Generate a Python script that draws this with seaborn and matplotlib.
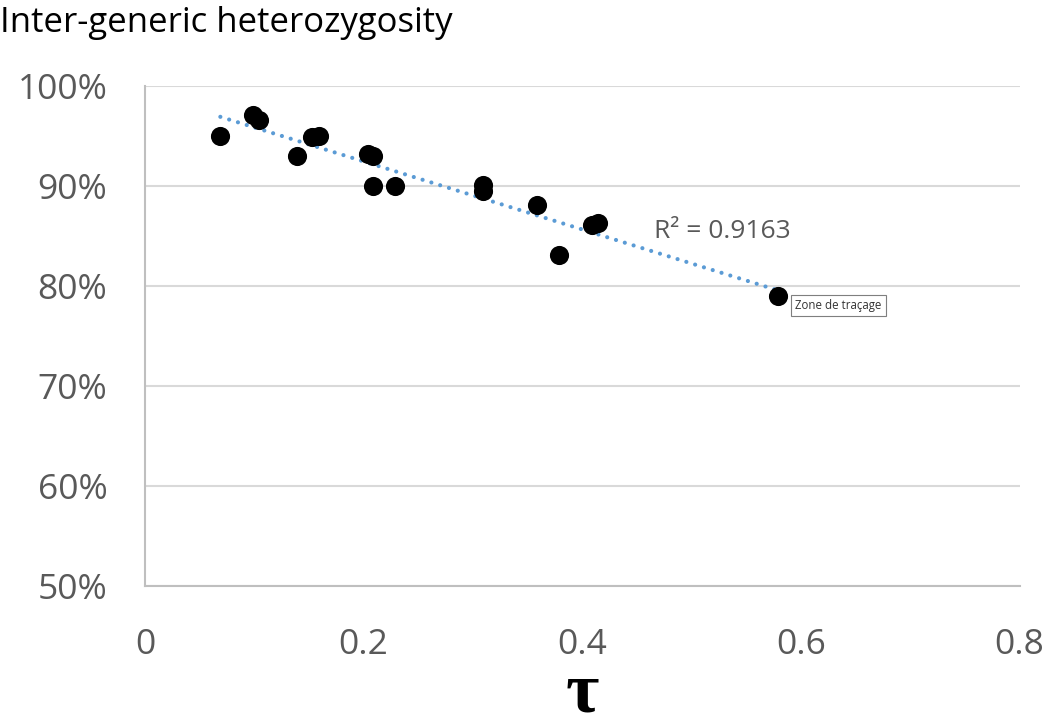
import numpy as np
import pandas as pd
import matplotlib
matplotlib.use("Agg")
import matplotlib.pyplot as plt
import seaborn as sns
from matplotlib.ticker import PercentFormatter

# values
tau = [0.069, 0.099, 0.104, 0.139, 0.153, 0.159, 0.204, 0.209, 0.209, 0.229,
       0.309, 0.309, 0.359, 0.379, 0.409, 0.414, 0.579]
het = [0.950, 0.971, 0.966, 0.930, 0.949, 0.950, 0.932, 0.930, 0.900, 0.900,
       0.901, 0.895, 0.881, 0.831, 0.861, 0.863, 0.790]
x_ticks = [0, 0.2, 0.4, 0.6, 0.8]
y_ticks = [0.5, 0.6, 0.7, 0.8, 0.9, 1.0]
r2_label = "R² = 0.9163"

df = pd.DataFrame({"tau": tau, "het": het})

sns.set_style("white")
plt.rcParams["font.family"] = ["Open Sans", "DejaVu Sans"]

grey = "#595959"
fig = plt.figure(figsize=(10.5, 7.28), dpi=100)
ax = fig.add_axes([0.138, 0.195, 0.833, 0.687])

# dotted linear trendline
sns.regplot(data=df, x="tau", y="het", scatter=False, ci=None, ax=ax,
            line_kws=dict(color="#5b9bd5", lw=3, linestyle=(0, (0.01, 2.2)),
                          dash_capstyle="round", zorder=2))
sns.scatterplot(data=df, x="tau", y="het", ax=ax, color="black", s=190,
                edgecolor="black", linewidth=0, zorder=3)

ax.set_xlim(0, 0.8)
ax.set_ylim(0.5, 1.0)
ax.set_xticks(x_ticks)
ax.set_xticklabels(["0", "0.2", "0.4", "0.6", "0.8"])
ax.set_yticks(y_ticks)
ax.yaxis.set_major_formatter(PercentFormatter(1.0, decimals=0))
ax.tick_params(axis="both", labelsize=25.5, colors=grey, length=0)
ax.tick_params(axis="x", pad=30)
ax.tick_params(axis="y", pad=27)
ax.yaxis.grid(True, color="#d9d9d9", lw=1.5)
ax.xaxis.grid(False)
for side in ["top", "right"]:
    ax.spines[side].set_visible(False)
for side in ["left", "bottom"]:
    ax.spines[side].set_color("#bfbfbf")
    ax.spines[side].set_linewidth(1.5)

ax.set_xlabel("τ", family=["Liberation Serif", "DejaVu Serif"], fontweight="bold",
              fontsize=52, color="black", labelpad=0)
ax.set_ylabel("")

ax.text(0.466, 0.854, r2_label, fontsize=19, color=grey, va="center", ha="left")
ax.text(0.595, 0.780, "Zone de traçage", fontsize=8.3, color="#333333", va="center",
        ha="left", bbox=dict(boxstyle="square,pad=0.35", fc="white", ec="#7f7f7f", lw=0.8))

fig.text(0.0, 0.992, "Inter-generic heterozygosity", fontsize=25, color="black",
         va="top", ha="left")

fig.savefig("out.png", dpi=100, facecolor="white")
